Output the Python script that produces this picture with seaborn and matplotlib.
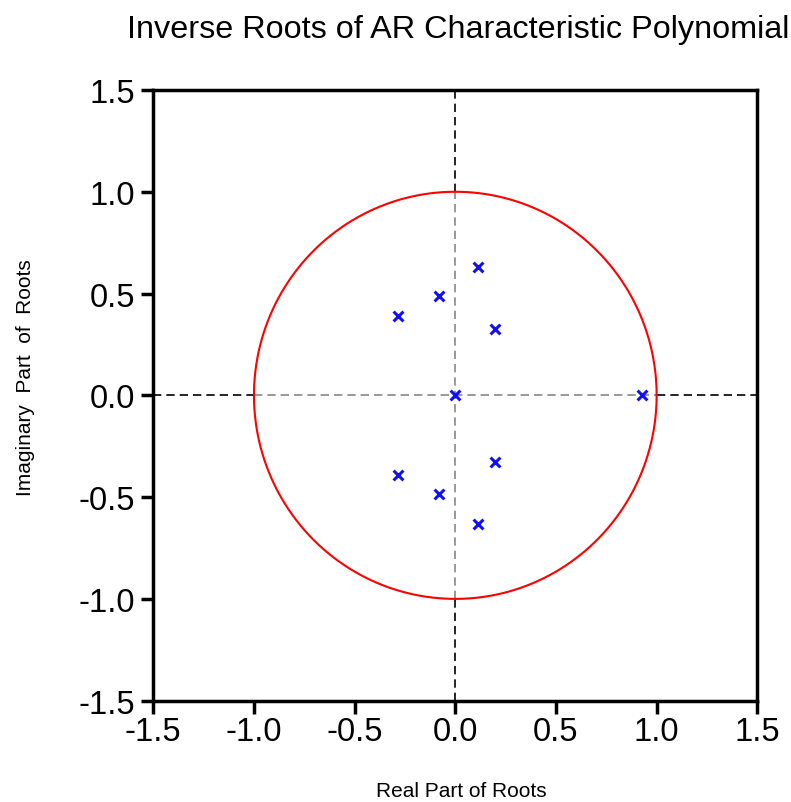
import numpy as np
import pandas as pd
import matplotlib
matplotlib.use("Agg")
import matplotlib.pyplot as plt
import seaborn as sns

# Inverse roots
real_part = [0.000, 0.926, 0.114, 0.114, -0.079, -0.079, -0.283, -0.283, 0.196, 0.196]
imag_part = [0.000, 0.000, 0.630, -0.630, 0.487, -0.487, 0.390, -0.390, 0.327, -0.327]
tick_vals = [-1.5, -1.0, -0.5, 0.0, 0.5, 1.0, 1.5]
tick_labels = ["-1.5", "-1.0", "-0.5", "0.0", "0.5", "1.0", "1.5"]

sns.set_style("white")
plt.rcParams['font.family'] = ['Liberation Sans', 'DejaVu Sans']
plt.rcParams['axes.unicode_minus'] = False
plt.rcParams['text.color'] = 'black'

fig = plt.figure(figsize=(7.91, 8.03), dpi=100)
ax = fig.add_axes([0.1938, 0.1262, 0.7636, 0.7605])

# dashed reference lines: black outside the unit circle, gray inside
for seg, col in [((-1.5, -1.0), 'black'), ((-1.0, 1.0), '#888888'), ((1.0, 1.5), 'black')]:
    ax.plot(seg, [0, 0], color=col, lw=1.2, ls=(0, (5, 3)), zorder=1)
    ax.plot([0, 0], seg, color=col, lw=1.2, ls=(0, (5, 3)), zorder=1)

# unit circle
theta = np.linspace(0, 2 * np.pi, 400)
ax.plot(np.cos(theta), np.sin(theta), color='#ff0000', lw=1.5, zorder=2)

df = pd.DataFrame({"real": real_part, "imag": imag_part})
sns.scatterplot(data=df, x="real", y="imag", marker="x", color="#1010f0",
                s=50, linewidth=2.2, ax=ax, zorder=3)

ax.set_xlim(-1.5, 1.5)
ax.set_ylim(-1.5, 1.5)
ax.set_xticks(tick_vals)
ax.set_xticklabels(tick_labels)
ax.set_yticks(tick_vals)
ax.set_yticklabels(tick_labels)
ax.tick_params(axis='both', which='both', direction='out', length=9, width=2.5,
               labelsize=23.5, colors='black', bottom=True, left=True,
               top=False, right=False)
ax.tick_params(axis='y', pad=4)
ax.tick_params(axis='x', pad=2)
for sp in ax.spines.values():
    sp.set_visible(True)
    sp.set_color('black')
    sp.set_linewidth(2.5)

ax.set_xlabel("")
ax.set_ylabel("")
fig.text(0.5835, 0.002, "Real Part of Roots", ha='center', va='bottom', fontsize=15)
fig.text(0.032, 0.530, "Imaginary  Part  of  Roots", ha='center', va='center',
         rotation=90, fontsize=15)
fig.text(0.579, 0.963, "Inverse Roots of AR Characteristic Polynomial", ha='center',
         va='center', fontsize=23.3)

fig.savefig("out.png", dpi=100)
